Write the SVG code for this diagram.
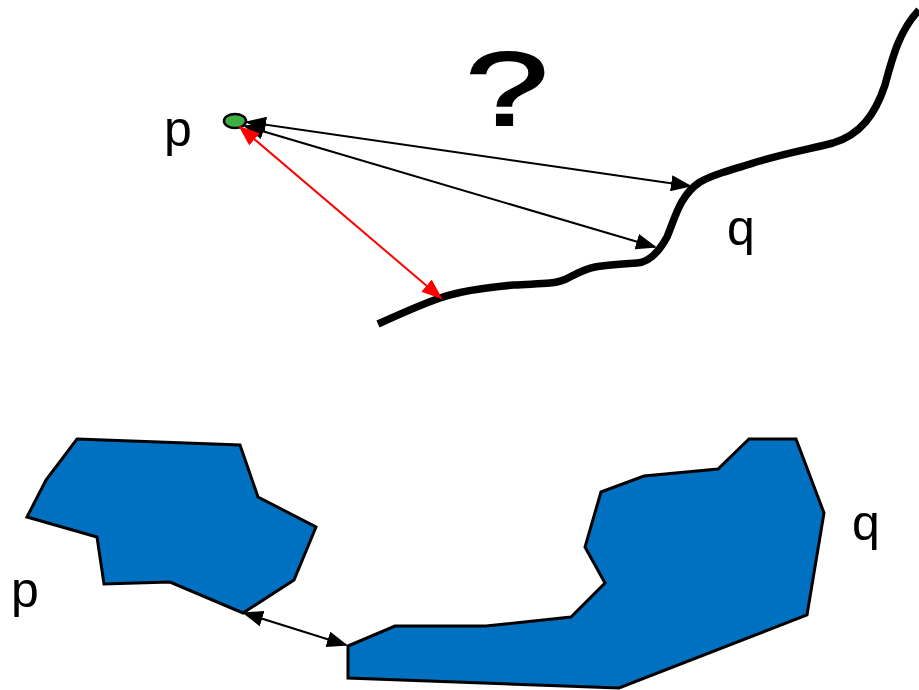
<svg xmlns="http://www.w3.org/2000/svg" width="919" height="690" viewBox="0 0 919 690">
<style>
.lbl{font-family:"Liberation Sans",Arial,sans-serif;font-size:50px;fill:#000}
.poly{fill:#0070c0;stroke:#000;stroke-width:3;stroke-linejoin:miter}
.conn{fill:none;stroke-width:2}
</style>
<defs>
<marker id="ab" markerUnits="userSpaceOnUse" markerWidth="21" markerHeight="16" refX="19" refY="8" orient="auto-start-reverse" viewBox="0 0 21 16">
<path d="M0,0 L21,8 L0,16 Z" fill="#000"/>
</marker>
<marker id="ar" markerUnits="userSpaceOnUse" markerWidth="21" markerHeight="16" refX="19" refY="8" orient="auto-start-reverse" viewBox="0 0 21 16">
<path d="M0,0 L21,8 L0,16 Z" fill="#ff0000"/>
</marker>
</defs>
<rect width="919" height="690" fill="#fff"/>
<g id="curve">
<path d="M378,324 C400,314 420,305 440,298 C455,293 465,291 480,289 C495,287 505,286 513,285 C530,284 540,284 550,283 C560,282 565,280 570,277 C580,272 585,269 595,267 C605,265 620,264 637,263 C650,262 660,250 667,237 C675,218 680,195 700,182 C712,175 730,170 760,161 C790,152 810,149 833,143 C860,135 875,115 885,85 C893,55 900,30 919,10" fill="none" stroke="#000" stroke-width="7.5" stroke-linecap="butt"/>
</g>
<g id="point-p">
<ellipse cx="235" cy="121" rx="11" ry="7" fill="#3cb043" stroke="#000" stroke-width="2.5"/>
</g>
<g id="poly-p">
<polygon class="poly" points="77,439 240,445 258,497 316,527 294,580 243,613 170,582 104,584 97,537 27,517 46,480"/>
</g>
<g id="poly-q">
<polygon class="poly" points="348,646 395,626 486,626 571,617 605,583 585,547 601,492 644,476 718,469 749,439 796,439 824,513 807,615 619,688 348,678"/>
</g>
<g id="connectors">
<line class="conn" x1="247" y1="122" x2="690" y2="186" stroke="#000" marker-start="url(#ab)" marker-end="url(#ab)"/>
<line class="conn" x1="245" y1="126" x2="655" y2="247" stroke="#000" marker-start="url(#ab)" marker-end="url(#ab)"/>
<line class="conn" x1="240" y1="127" x2="441" y2="298" stroke="#ff0000" stroke-width="2.5" marker-start="url(#ar)" marker-end="url(#ar)"/>
<line class="conn" x1="244" y1="613" x2="346" y2="645" stroke="#000" marker-start="url(#ab)" marker-end="url(#ab)"/>
</g>
<g id="labels">
<text class="lbl" x="164" y="146">p</text>
<text class="lbl" x="727" y="245">q</text>
<text class="lbl" x="852" y="540">q</text>
<text class="lbl" x="11" y="607">p</text>
<text x="0" y="125" text-anchor="middle" font-family="Liberation Sans,Arial,sans-serif" font-size="103" stroke="#000" stroke-width="2" transform="translate(507,0) scale(1.45,1)">?</text>
</g>
</svg>
